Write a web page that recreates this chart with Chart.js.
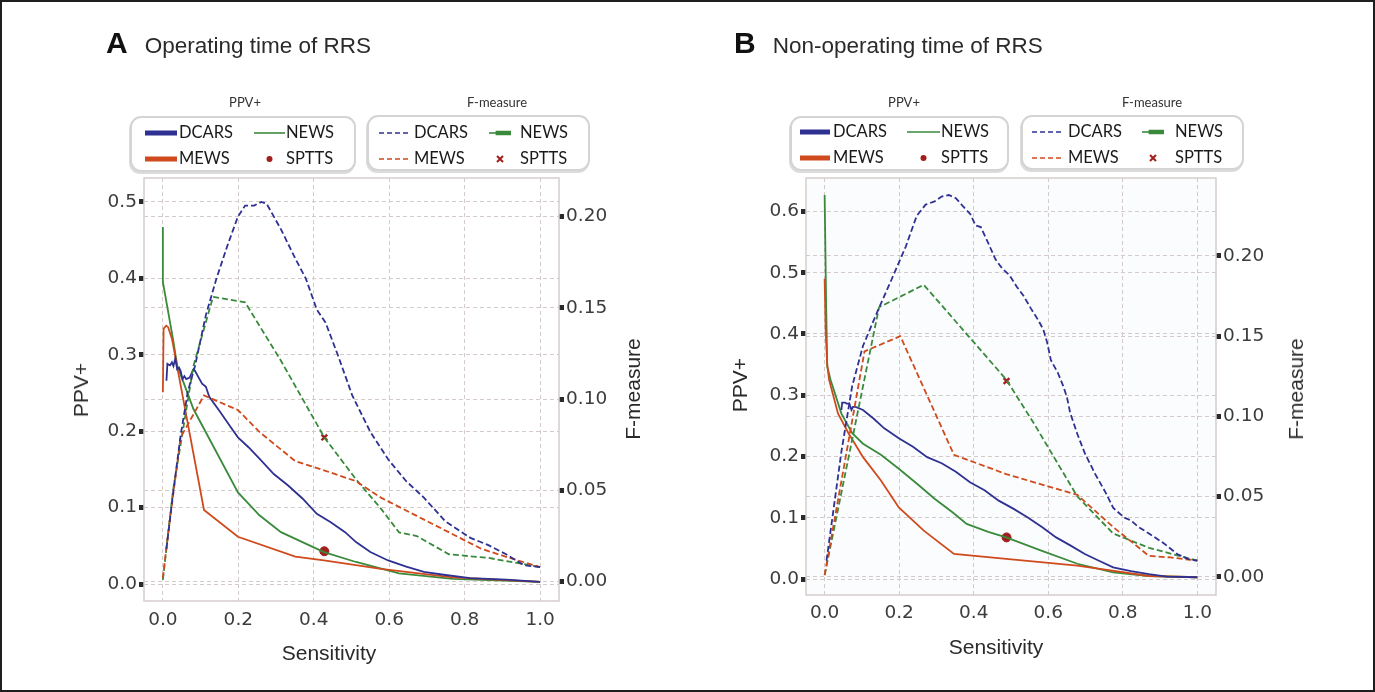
<!DOCTYPE html>
<html>
<head>
<meta charset="utf-8">
<script src="https://cdn.jsdelivr.net/npm/chart.js@4.4.1/dist/chart.umd.min.js"></script>
<style>
  html, body { margin: 0; padding: 0; background: #fff; }
  #fig { position: relative; width: 1375px; height: 692px; overflow: hidden; font-family: "Liberation Sans", Arial, sans-serif; color: #222; }
  .wrap { position: absolute; top: 0; height: 692px; }
  .ttl { position: absolute; top: 26px; display: flex; align-items: baseline; white-space: nowrap; }
  .ttl b { font-size: 30px; font-weight: bold; color: #111; margin-right: 17px; }
  .ttl span { font-size: 22.5px; color: #2a2a2a; }
  .axt { position: absolute; white-space: nowrap; font-size: 21px; color: #2a2a2a; transform: translate(-50%, -50%); }
  .axt.rot { transform: translate(-50%, -50%) rotate(-90deg); }
  .lgh { position: absolute; font-family: Lato, "Open Sans", sans-serif; font-size: 13px; color: #333; transform: translate(-50%, -50%); }
  .lgbox { position: absolute; box-sizing: border-box; border: 2px solid #d4d4d4; border-radius: 11px; background: #fff; box-shadow: -1px 2px 0 #dcdcdc; }
  .lgbox svg { position: absolute; }
  .lgbox .t { position: absolute; font-family: Lato, "Open Sans", sans-serif; font-size: 16.5px; color: #1a1a1a; line-height: 18px; }
  #edge { position: absolute; left: 0; top: 0; width: 1375px; height: 692px; box-sizing: border-box; border: 2px solid #1e1e1e; pointer-events: none; }
</style>
</head>
<body>
<div id="fig">
  <div class="wrap" style="left:0;width:690px"><canvas id="chartA"></canvas></div>
  <div class="wrap" style="left:690px;width:685px"><canvas id="chartB"></canvas></div>

  <div class="ttl" style="left:106px"><b>A</b><span>Operating time of RRS</span></div>
  <div class="ttl" style="left:734px"><b>B</b><span>Non-operating time of RRS</span></div>

  <div class="axt rot" style="left:81px;top:390px">PPV+</div>
  <div class="axt rot" style="left:633px;top:389px">F-measure</div>
  <div class="axt" style="left:329px;top:653px">Sensitivity</div>
  <div class="axt rot" style="left:740px;top:385px">PPV+</div>
  <div class="axt rot" style="left:1296px;top:389px">F-measure</div>
  <div class="axt" style="left:996px;top:647px">Sensitivity</div>

  <div id="legends"></div>
  <div id="edge"></div>
</div>

<script>
// ---- ticks ----
const xTicks = [0.0, 0.2, 0.4, 0.6, 0.8, 1.0];
const ppvTicksA = [0.0, 0.1, 0.2, 0.3, 0.4, 0.5];
const ppvTicksB = [0.0, 0.1, 0.2, 0.3, 0.4, 0.5, 0.6];
const fTicks = [0.00, 0.05, 0.10, 0.15, 0.20];

const seriesNames = ["DCARS", "NEWS", "MEWS", "SPTTS"];
const groupNames = ["PPV+", "F-measure"];

// ---- A: operating time, [sensitivity, value] ----
const aDcarsPpv = [[0.0095,0.266],[0.012,0.288],[0.019,0.286],[0.024,0.29],[0.028,0.285],[0.033,0.295],[0.038,0.281],[0.043,0.283],
  [0.047,0.279],[0.052,0.268],[0.057,0.272],[0.062,0.268],[0.071,0.27],[0.081,0.281],[0.085,0.279],[0.095,0.27],[0.104,0.262],
  [0.114,0.258],[0.123,0.245],[0.152,0.225],[0.18,0.205],[0.199,0.192],[0.227,0.179],[0.256,0.164],[0.294,0.144],[0.332,0.129],
  [0.37,0.112],[0.408,0.092],[0.445,0.081],[0.483,0.068],[0.512,0.055],[0.55,0.042],[0.597,0.031],[0.645,0.023],[0.692,0.016],
  [0.749,0.012],[0.815,0.008],[0.91,0.006],[1.0,0.003]];
const aMewsPpv = [[0.0,0.251],[0.002,0.334],[0.009,0.338],[0.014,0.336],[0.024,0.321],[0.109,0.097],[0.199,0.062],[0.351,0.036],
  [0.427,0.031],[0.578,0.02],[0.768,0.009],[1.0,0.003]];
const aNewsPpv = [[0.0,0.467],[0.0,0.395],[0.027,0.32],[0.038,0.286],[0.081,0.229],[0.133,0.181],[0.199,0.12],[0.256,0.09],
  [0.313,0.068],[0.427,0.042],[0.512,0.029],[0.626,0.014],[0.768,0.007],[1.0,0.003]];
const aSpttsPpv = [[0.428,0.043]];

const aDcarsF = [[0.0095,0.018],[0.025,0.045],[0.047,0.08],[0.066,0.104],[0.085,0.118],[0.114,0.146],[0.142,0.166],[0.171,0.184],
  [0.199,0.2],[0.218,0.206],[0.242,0.206],[0.261,0.208],[0.275,0.207],[0.313,0.193],[0.351,0.177],[0.379,0.166],[0.408,0.149],
  [0.431,0.142],[0.464,0.124],[0.502,0.102],[0.55,0.082],[0.597,0.067],[0.645,0.055],[0.692,0.046],[0.749,0.033],[0.815,0.024],
  [0.863,0.02],[0.91,0.015],[0.957,0.009],[1.0,0.008]];
const aMewsF = [[0.0,0.002],[0.012,0.023],[0.047,0.079],[0.109,0.102],[0.199,0.094],[0.256,0.082],[0.351,0.066],[0.427,0.061],
  [0.512,0.055],[0.578,0.046],[0.673,0.036],[0.768,0.026],[0.844,0.018],[0.919,0.013],[1.0,0.008]];
const aNewsF = [[0.0,0.001],[0.027,0.05],[0.081,0.118],[0.133,0.156],[0.218,0.153],[0.313,0.121],[0.428,0.079],[0.512,0.056],
  [0.578,0.04],[0.626,0.027],[0.673,0.025],[0.758,0.015],[0.863,0.013],[1.0,0.008]];
const aSpttsF = [[0.428,0.079]];

// ---- B: non-operating time ----
const bDcarsPpv = [[0.045,0.276],[0.047,0.288],[0.055,0.288],[0.06,0.286],[0.066,0.287],[0.072,0.276],[0.076,0.281],[0.083,0.281],
  [0.103,0.276],[0.131,0.262],[0.16,0.246],[0.199,0.23],[0.237,0.216],[0.275,0.199],[0.314,0.189],[0.352,0.175],[0.39,0.158],
  [0.429,0.145],[0.467,0.128],[0.506,0.115],[0.544,0.101],[0.583,0.085],[0.621,0.068],[0.659,0.055],[0.698,0.041],[0.736,0.03],
  [0.774,0.019],[0.822,0.013],[0.87,0.008],[0.918,0.004],[1.0,0.003]];
const bMewsPpv = [[0.0,0.49],[0.003,0.4],[0.007,0.35],[0.012,0.325],[0.036,0.27],[0.064,0.238],[0.103,0.199],[0.151,0.161],
  [0.199,0.117],[0.266,0.079],[0.347,0.041],[0.487,0.033],[0.678,0.022],[0.87,0.005],[1.0,0.003]];
const bNewsPpv = [[0.0,0.627],[0.004,0.45],[0.007,0.347],[0.016,0.325],[0.045,0.27],[0.074,0.238],[0.103,0.221],[0.151,0.203],
  [0.199,0.18],[0.247,0.156],[0.295,0.131],[0.343,0.109],[0.381,0.09],[0.439,0.077],[0.487,0.068],[0.583,0.046],[0.678,0.025],
  [0.774,0.011],[0.87,0.005],[1.0,0.003]];
const bSpttsPpv = [[0.488,0.068]];

const bDcarsF = [[0.005,0.01],[0.045,0.078],[0.074,0.119],[0.103,0.144],[0.141,0.165],[0.179,0.185],[0.218,0.206],[0.247,0.225],
  [0.271,0.232],[0.295,0.234],[0.314,0.237],[0.333,0.238],[0.352,0.236],[0.371,0.231],[0.391,0.226],[0.405,0.219],[0.419,0.218],
  [0.439,0.208],[0.458,0.198],[0.477,0.192],[0.496,0.188],[0.515,0.181],[0.534,0.175],[0.554,0.167],[0.573,0.16],[0.587,0.154],
  [0.597,0.146],[0.607,0.135],[0.626,0.127],[0.64,0.119],[0.65,0.112],[0.659,0.102],[0.678,0.089],[0.698,0.077],[0.726,0.064],
  [0.755,0.052],[0.774,0.043],[0.803,0.037],[0.822,0.035],[0.842,0.031],[0.87,0.027],[0.909,0.021],[0.947,0.014],[0.976,0.011],
  [1.0,0.01]];
const bMewsF = [[0.0,0.001],[0.107,0.1405],[0.203,0.15],[0.347,0.076],[0.487,0.064],[0.678,0.051],[0.774,0.031],[0.87,0.013],
  [0.928,0.012],[1.0,0.01]];
const bNewsF = [[0.0,0.001],[0.146,0.168],[0.266,0.182],[0.487,0.123],[0.563,0.095],[0.678,0.05],[0.774,0.027],[0.87,0.018],[1.0,0.01]];
const bSpttsF = [[0.488,0.122]];

const COL = { DCARS: "#2f3192", MEWS: "#cf4a1d", NEWS: "#3a8a3c", SPTTS: "#a11f1c" };
const GRID = "#d5caca";
const TICKFONT = { family: "DejaVu Sans", size: 18.5 };

const xy = pts => pts.map(p => ({ x: p[0], y: p[1] }));

function lineSet(name, pts, axis, dashed) {
  return {
    label: name, data: xy(pts), yAxisID: axis, showLine: true,
    borderColor: COL[name], borderWidth: 1.8, borderDash: dashed ? [6, 3] : [],
    pointRadius: 0, tension: 0, fill: false
  };
}

function markSet(name, pts, axis, style) {
  return {
    label: name, data: xy(pts), yAxisID: axis, showLine: false,
    pointStyle: style, pointRadius: style === "circle" ? 4.5 : 4,
    backgroundColor: COL.SPTTS, borderColor: COL.SPTTS, borderWidth: style === "circle" ? 1 : 2.4
  };
}

const framePlugin = {
  id: "frame",
  beforeDraw(chart, args, opts) {
    const a = chart.chartArea, c = chart.ctx;
    c.save();
    c.fillStyle = opts.bg;
    c.fillRect(a.left, a.top, a.right - a.left, a.bottom - a.top);
    c.restore();
  },
  afterDraw(chart) {
    const a = chart.chartArea, c = chart.ctx;
    c.save();
    c.strokeStyle = "#d6cdcd";
    c.lineWidth = 1.5;
    c.strokeRect(a.left, a.top, a.right - a.left, a.bottom - a.top);
    c.restore();
  }
};

function yAxis(pos, ticks, min, max, width, digits) {
  return {
    type: "linear", position: pos, min: min, max: max,
    afterBuildTicks: s => { s.ticks = ticks.map(v => ({ value: v })); },
    afterFit: s => { s.width = width; },
    ticks: { font: TICKFONT, color: "#3c3c3c", padding: 2, callback: v => v.toFixed(digits) },
    grid: { color: GRID, lineWidth: 1, tickColor: "#2a2a2a", tickLength: 5, tickWidth: 5, tickBorderDash: [] },
    border: { display: false, dash: [4, 3] }
  };
}

function panel(id, p) {
  new Chart(document.getElementById(id), {
    type: "scatter",
    data: {
      datasets: [
        lineSet("DCARS", p.dcarsF, "yR", true),
        lineSet("MEWS", p.mewsF, "yR", true),
        lineSet("NEWS", p.newsF, "yR", true),
        lineSet("DCARS", p.dcarsPpv, "yL", false),
        lineSet("MEWS", p.mewsPpv, "yL", false),
        lineSet("NEWS", p.newsPpv, "yL", false),
        markSet("SPTTS", p.spttsPpv, "yL", "circle"),
        markSet("SPTTS", p.spttsF, "yR", "crossRot")
      ]
    },
    options: {
      animation: false, responsive: true, maintainAspectRatio: false,
      layout: { padding: { top: p.top, left: 0, right: 0, bottom: 0 } },
      plugins: { legend: { display: false }, tooltip: { enabled: false }, frame: { bg: p.bg } },
      scales: {
        x: {
          type: "linear", min: -0.05, max: 1.05,
          afterBuildTicks: s => { s.ticks = xTicks.map(v => ({ value: v })); },
          afterFit: s => { s.height = p.xH; },
          ticks: { font: TICKFONT, color: "#3c3c3c", padding: p.xPad, callback: v => v.toFixed(1) },
          grid: { color: GRID, lineWidth: 1, drawTicks: false },
          border: { display: false, dash: [4, 3] }
        },
        yL: yAxis("left", p.ppvTicks, p.lMin, p.lMax, p.leftW, 1),
        yR: yAxis("right", fTicks, p.rMin, p.rMax, p.rightW, 2)
      }
    },
    plugins: [framePlugin]
  });
}

panel("chartA", {
  dcarsPpv: aDcarsPpv, mewsPpv: aMewsPpv, newsPpv: aNewsPpv, spttsPpv: aSpttsPpv,
  dcarsF: aDcarsF, mewsF: aMewsF, newsF: aNewsF, spttsF: aSpttsF,
  ppvTicks: ppvTicksA, lMin: -0.022, lMax: 0.531, rMin: -0.0106, rMax: 0.2211,
  top: 178, leftW: 144, rightW: 131, xH: 91, xPad: 8, bg: "#ffffff"
});
panel("chartB", {
  dcarsPpv: bDcarsPpv, mewsPpv: bMewsPpv, newsPpv: bNewsPpv, spttsPpv: bSpttsPpv,
  dcarsF: bDcarsF, mewsF: bMewsF, newsF: bNewsF, spttsF: bSpttsF,
  ppvTicks: ppvTicksB, lMin: -0.026, lMax: 0.6546, rMin: -0.0114, rMax: 0.2486,
  top: 178, leftW: 116, rightW: 159, xH: 97, xPad: 7, bg: "#fbfcfe"
});

// ---- legends (HTML, two grouped boxes per panel) ----
const swatch = {
  "PPV+":      { DCARS: "thick", NEWS: "thin", MEWS: "thick", SPTTS: "dot" },
  "F-measure": { DCARS: "dash", NEWS: "bar", MEWS: "dash", SPTTS: "cross" }
};

function svgFor(kind, color, w) {
  const h = 12, m = h / 2;
  let body = "";
  if (kind === "thick") body = `<line x1="0" y1="${m}" x2="${w}" y2="${m}" stroke="${color}" stroke-width="5"/>`;
  if (kind === "thin") body = `<line x1="0" y1="${m}" x2="${w}" y2="${m}" stroke="${color}" stroke-width="1.6"/>`;
  if (kind === "dash") body = `<line x1="0" y1="${m}" x2="${w}" y2="${m}" stroke="${color}" stroke-width="1.6" stroke-dasharray="5 3"/>`;
  if (kind === "bar") body = `<line x1="0" y1="${m}" x2="${w}" y2="${m}" stroke="${color}" stroke-width="1.6"/><line x1="${w * 0.3}" y1="${m}" x2="${w}" y2="${m}" stroke="${color}" stroke-width="4.5"/>`;
  if (kind === "dot") body = `<circle cx="${w / 2}" cy="${m}" r="3" fill="${color}"/>`;
  if (kind === "cross") body = `<path d="M${w / 2 - 3} ${m - 3} L${w / 2 + 3} ${m + 3} M${w / 2 + 3} ${m - 3} L${w / 2 - 3} ${m + 3}" stroke="${color}" stroke-width="2"/>`;
  return `<svg width="${w}" height="${h}" viewBox="0 0 ${w} ${h}">${body}</svg>`;
}

function legendBox(group, box) {
  let html = `<div class="lgh" style="left:${box.hx}px;top:${box.hy}px">${group}</div>`;
  html += `<div class="lgbox" style="left:${box.x}px;top:${box.y}px;width:${box.w}px;height:${box.h}px">`;
  seriesNames.forEach((name, i) => {
    const col = i % 2, row = Math.floor(i / 2);
    const cy = box.rows[row] - 2;
    const sx = box.sx[col], sw = box.sw[col], tx = box.tx[col];
    html += `<div style="position:absolute;left:${sx}px;top:${cy - 6}px;line-height:0">${svgFor(swatch[group][name], COL[name], sw)}</div>`;
    html += `<span class="t" style="left:${tx}px;top:${cy - 10}px">${name}</span>`;
  });
  return html + "</div>";
}

document.getElementById("legends").innerHTML =
  legendBox("PPV+",      { x: 130,  y: 116, w: 226, h: 56, hx: 245,  hy: 102, rows: [17, 43], sx: [13, 122], sw: [32, 31], tx: [47, 154] }) +
  legendBox("F-measure", { x: 367,  y: 115, w: 223, h: 56, hx: 497,  hy: 102, rows: [18, 44], sx: [10, 120], sw: [32, 22], tx: [45, 151] }) +
  legendBox("PPV+",      { x: 790,  y: 116, w: 219, h: 55, hx: 904,  hy: 102, rows: [16, 42], sx: [8, 115],  sw: [30, 33], tx: [41, 149] }) +
  legendBox("F-measure", { x: 1021, y: 115, w: 223, h: 55, hx: 1152, hy: 102, rows: [17, 43], sx: [9, 119],  sw: [32, 22], tx: [45, 152] });
</script>
</body>
</html>
